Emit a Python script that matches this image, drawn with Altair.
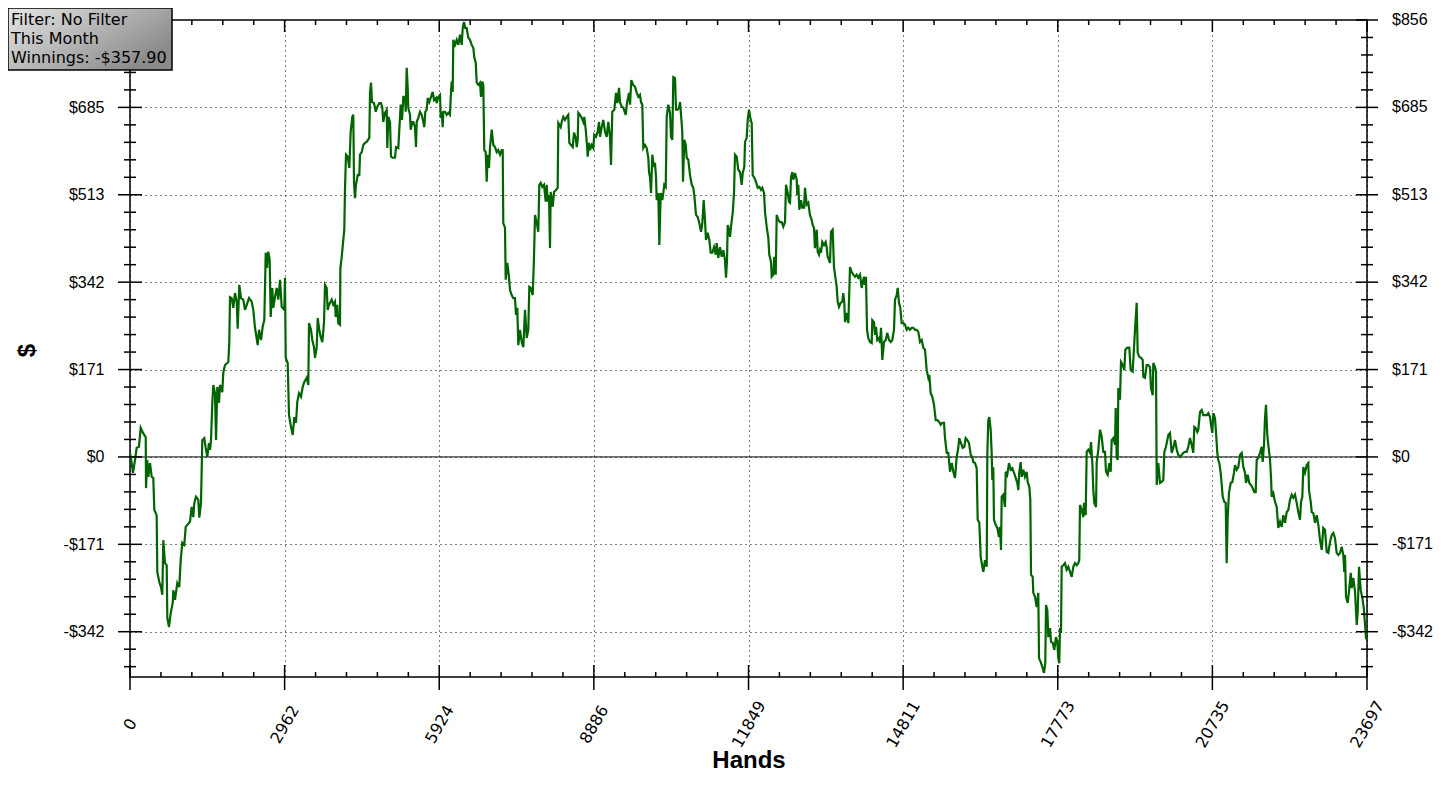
import altair as alt
import pandas as pd

# cumulative winnings (hand number, dollars)
HANDS = [
    0, 33, 57, 96, 128, 172, 205, 249, 301, 307,
    331, 351, 383, 416, 446, 466, 511, 523, 561, 594,
    619, 638, 670, 703, 715, 747, 780, 818, 829, 862,
    906, 944, 971, 1002, 1040, 1067, 1149, 1182, 1213, 1232,
    1264, 1308, 1328, 1360, 1385, 1423, 1450, 1481, 1513, 1533,
    1552, 1577, 1596, 1628, 1648, 1672, 1705, 1724, 1768, 1787,
    1820, 1883, 1902, 1916, 1948, 1979, 2011, 2044, 2063, 2094,
    2126, 2170, 2203, 2236, 2280, 2331, 2362, 2395, 2446, 2471,
    2510, 2542, 2573, 2600, 2625, 2649, 2676, 2695, 2726, 2745,
    2778, 2810, 2841, 2874, 2906, 2956, 2969, 2983, 3021, 3046,
    3084, 3117, 3148, 3180, 3205, 3238, 3276, 3308, 3339, 3385,
    3416, 3429, 3467, 3492, 3525, 3544, 3577, 3596, 3626, 3653,
    3684, 3716, 3736, 3768, 3787, 3812, 3864, 3895, 3927, 3941,
    3971, 3990, 4023, 4030, 4056, 4086, 4105, 4119, 4138, 4171,
    4201, 4228, 4259, 4278, 4291, 4310, 4329, 4362, 4393, 4406,
    4439, 4469, 4502, 4534, 4584, 4598, 4617, 4636, 4674, 4707,
    4737, 4776, 4808, 4833, 4852, 4885, 4918, 4929, 4948, 4981,
    5000, 5033, 5077, 5096, 5140, 5159, 5186, 5211, 5236, 5268,
    5282, 5301, 5320, 5331, 5364, 5377, 5408, 5427, 5460, 5479,
    5492, 5523, 5556, 5588, 5619, 5638, 5657, 5684, 5703, 5734,
    5766, 5799, 5824, 5862, 5875, 5906, 5939, 5952, 5971, 5990,
    6002, 6034, 6067, 6098, 6130, 6149, 6163, 6182, 6193, 6226,
    6259, 6289, 6322, 6354, 6374, 6398, 6423, 6450, 6481, 6513,
    6546, 6577, 6596, 6623, 6642, 6672, 6705, 6724, 6749, 6768,
    6787, 6814, 6833, 6853, 6877, 6897, 6929, 6960, 6992, 7025,
    7055, 7088, 7121, 7140, 7151, 7184, 7197, 7228, 7255, 7280,
    7312, 7343, 7375, 7395, 7419, 7439, 7471, 7504, 7535, 7567,
    7600, 7630, 7650, 7676, 7715, 7739, 7759, 7791, 7822, 7841,
    7868, 7898, 7931, 7964, 7983, 8002, 8027, 8046, 8059, 8098,
    8123, 8161, 8193, 8205, 8251, 8270, 8301, 8333, 8366, 8396,
    8416, 8448, 8481, 8506, 8538, 8558, 8577, 8589, 8621, 8653,
    8684, 8703, 8730, 8755, 8768, 8793, 8812, 8845, 8875, 8894,
    8927, 8960, 8985, 9004, 9036, 9067, 9100, 9132, 9163, 9195,
    9215, 9239, 9278, 9310, 9336, 9368, 9387, 9420, 9450, 9496,
    9521, 9559, 9579, 9603, 9636, 9674, 9707, 9738, 9770, 9789,
    9814, 9833, 9866, 9898, 9929, 9943, 9962, 9981, 10006, 10038,
    10057, 10077, 10090, 10121, 10140, 10167, 10197, 10217, 10236, 10263,
    10282, 10312, 10345, 10364, 10389, 10408, 10441, 10460, 10492, 10517,
    10537, 10556, 10580, 10594, 10619, 10646, 10665, 10695, 10728, 10761,
    10791, 10810, 10843, 10875, 10906, 10939, 10964, 10990, 11015, 11034,
    11067, 11098, 11124, 11155, 11188, 11220, 11239, 11270, 11303, 11335,
    11366, 11398, 11418, 11437, 11450, 11475, 11494, 11513, 11546, 11571,
    11590, 11623, 11653, 11686, 11718, 11738, 11768, 11782, 11814, 11833,
    11858, 11891, 11910, 11929, 11960, 11992, 12025, 12055, 12088, 12113,
    12146, 12165, 12197, 12228, 12247, 12280, 12293, 12324, 12343, 12370,
    12389, 12420, 12452, 12485, 12515, 12548, 12567, 12600, 12624, 12644,
    12663, 12688, 12707, 12740, 12772, 12783, 12803, 12822, 12855, 12879,
    12912, 12931, 12963, 12994, 13026, 13059, 13078, 13103, 13122, 13155,
    13174, 13199, 13218, 13238, 13262, 13295, 13327, 13346, 13365, 13390,
    13410, 13429, 13461, 13486, 13506, 13538, 13557, 13582, 13615, 13645,
    13664, 13684, 13697, 13730, 13761, 13793, 13826, 13856, 13889, 13921,
    13952, 13985, 14017, 14036, 14061, 14080, 14099, 14119, 14144, 14176,
    14209, 14220, 14253, 14272, 14291, 14316, 14349, 14368, 14387, 14412,
    14444, 14477, 14507, 14540, 14573, 14603, 14636, 14655, 14688, 14707,
    14732, 14757, 14783, 14814, 14847, 14879, 14910, 14942, 14975, 15006,
    15038, 15071, 15102, 15134, 15167, 15197, 15230, 15262, 15293, 15312,
    15339, 15369, 15402, 15435, 15465, 15498, 15531, 15561, 15594, 15613,
    15646, 15676, 15709, 15742, 15772, 15805, 15837, 15868, 15885, 15919,
    15952, 15983, 16009, 16040, 16073, 16105, 16136, 16155, 16188, 16220,
    16239, 16270, 16297, 16328, 16347, 16379, 16412, 16424, 16442, 16462,
    16488, 16507, 16519, 16538, 16551, 16584, 16615, 16647, 16667, 16686,
    16699, 16730, 16762, 16776, 16806, 16839, 16871, 16902, 16935, 16967,
    16998, 17017, 17036, 17063, 17082, 17113, 17145, 17178, 17197, 17228,
    17247, 17261, 17293, 17304, 17337, 17370, 17400, 17414, 17446, 17477,
    17509, 17534, 17548, 17573, 17592, 17624, 17644, 17676, 17707, 17739,
    17764, 17783, 17802, 17816, 17835, 17848, 17879, 17912, 17944, 17975,
    18008, 18040, 18071, 18103, 18136, 18166, 18185, 18199, 18232, 18262,
    18276, 18308, 18327, 18358, 18391, 18410, 18435, 18454, 18473, 18506,
    18519, 18550, 18582, 18615, 18645, 18678, 18697, 18730, 18760, 18787,
    18806, 18837, 18870, 18883, 18902, 18921, 18933, 18965, 18984, 19017,
    19048, 19067, 19105, 19144, 19170, 19208, 19234, 19253, 19285, 19304,
    19335, 19368, 19400, 19412, 19444, 19477, 19507, 19540, 19559, 19592,
    19603, 19636, 19655, 19669, 19699, 19732, 19764, 19795, 19815, 19846,
    19891, 19923, 19956, 19987, 20019, 20052, 20082, 20115, 20147, 20178,
    20211, 20243, 20274, 20306, 20339, 20369, 20389, 20415, 20446, 20465,
    20498, 20530, 20561, 20594, 20626, 20657, 20690, 20709, 20734, 20753,
    20785, 20805, 20829, 20848, 20868, 20894, 20914, 20933, 20963, 20990,
    21009, 21028, 21053, 21086, 21117, 21149, 21168, 21201, 21232, 21264,
    21297, 21328, 21360, 21379, 21412, 21442, 21475, 21507, 21538, 21565,
    21584, 21615, 21648, 21680, 21699, 21724, 21743, 21762, 21787, 21806,
    21839, 21858, 21871, 21902, 21935, 21967, 21998, 22031, 22063, 22094,
    22126, 22159, 22190, 22222, 22255, 22285, 22318, 22350, 22381, 22414,
    22433, 22458, 22477, 22510, 22542, 22573, 22586, 22619, 22638, 22669,
    22702, 22734, 22765, 22797, 22830, 22860, 22893, 22925, 22956, 22988,
    23021, 23052, 23084, 23116, 23147, 23180, 23212, 23243, 23262, 23276,
    23295, 23327, 23352, 23385, 23404, 23435, 23468, 23500, 23519, 23544,
    23577, 23608, 23635, 23660, 23679, 23697,
]

WINNINGS = [
    8, -12, -31, -6, 18, 20, 57, 47, 39, -61,
    -6, -39, -12, -39, -41, -104, -114, -225, -245, -255,
    -270, -163, -208, -212, -315, -333, -306, -286, -261, -280,
    -247, -255, -202, -168, -172, -137, -127, -98, -118, -90,
    -78, -84, -119, -90, 33, 37, 18, 0, 27, 14,
    33, 106, 141, 125, 33, 137, 106, 141, 127, 165,
    180, 186, 223, 313, 311, 292, 321, 304, 251, 337,
    311, 308, 288, 298, 311, 304, 288, 253, 219, 249,
    229, 255, 268, 400, 370, 402, 386, 274, 331, 292,
    313, 331, 308, 347, 294, 288, 351, 194, 184, 82,
    59, 43, 78, 67, 108, 125, 118, 137, 147, 155,
    141, 262, 249, 229, 215, 194, 215, 272, 249, 235,
    225, 262, 337, 331, 288, 298, 308, 298, 304, 274,
    298, 262, 259, 370, 392, 425, 445, 527, 592, 588,
    566, 637, 666, 670, 539, 507, 533, 552, 552, 592,
    597, 611, 615, 617, 625, 713, 733, 695, 693, 676,
    686, 693, 693, 684, 656, 674, 680, 605, 666, 656,
    588, 586, 586, 607, 605, 641, 690, 660, 705, 705,
    676, 762, 723, 684, 670, 641, 656, 656, 646, 607,
    656, 664, 676, 670, 656, 646, 676, 680, 703, 695,
    705, 715, 699, 703, 693, 705, 709, 664, 676, 646,
    676, 676, 670, 674, 670, 715, 735, 715, 817, 807,
    817, 807, 827, 807, 840, 852, 840, 840, 821, 817,
    807, 801, 782, 772, 733, 729, 733, 705, 735, 729,
    601, 597, 539, 592, 566, 607, 641, 611, 607, 597,
    601, 592, 601, 601, 458, 449, 347, 380, 357, 327,
    317, 311, 311, 278, 292, 219, 249, 225, 215, 288,
    233, 249, 333, 331, 317, 390, 474, 458, 441, 533,
    537, 529, 533, 500, 533, 500, 513, 409, 519, 490,
    519, 523, 527, 654, 646, 656, 666, 660, 666, 670,
    615, 611, 607, 635, 625, 607, 621, 674, 670, 664,
    656, 666, 641, 611, 588, 615, 601, 611, 605, 631,
    627, 637, 656, 627, 646, 660, 637, 627, 656, 627,
    572, 676, 680, 713, 693, 723, 695, 686, 684, 670,
    693, 713, 690, 738, 729, 725, 713, 705, 709, 695,
    690, 605, 611, 605, 586, 558, 547, 517, 592, 568,
    576, 548, 503, 517, 415, 517, 503, 517, 533, 529,
    666, 690, 674, 627, 621, 744, 742, 680, 680, 684,
    695, 670, 637, 539, 621, 611, 586, 582, 552, 533,
    527, 513, 474, 470, 458, 441, 458, 503, 464, 425,
    439, 425, 400, 400, 411, 396, 419, 390, 411, 392,
    405, 386, 351, 386, 454, 445, 431, 451, 478, 517,
    592, 588, 562, 558, 533, 556, 568, 617, 625, 660,
    680, 660, 654, 552, 547, 539, 527, 529, 523, 527,
    517, 479, 451, 429, 396, 382, 353, 357, 392, 357,
    474, 464, 460, 460, 451, 460, 533, 517, 500, 498,
    548, 558, 543, 556, 543, 513, 533, 484, 503, 488,
    488, 527, 494, 498, 474, 464, 454, 449, 409, 445,
    402, 396, 405, 400, 421, 415, 421, 411, 392, 386,
    380, 441, 445, 372, 357, 333, 304, 294, 302, 304,
    321, 302, 264, 282, 262, 372, 362, 357, 353, 357,
    351, 357, 331, 341, 353, 337, 353, 249, 233, 225,
    223, 268, 264, 239, 255, 229, 233, 223, 253, 190,
    225, 229, 243, 229, 225, 229, 249, 308, 317, 331,
    302, 292, 262, 262, 259, 249, 253, 249, 253, 253,
    249, 249, 245, 225, 229, 214, 210, 170, 155, 161,
    125, 118, 102, 72, 72, 69, 63, 67, 67, 37,
    8, 8, -29, -12, -29, -41, 0, 18, 37, 27,
    18, 20, 37, 33, 27, 4, 0, -10, -12, -22,
    -123, -129, -196, -215, -225, -202, -215, 8, 72, 78,
    53, 8, -45, -20, -123, -133, -139, -157, -137, -182,
    -78, -74, -98, -29, -35, -12, -25, -22, -31, -41,
    -51, -65, -29, -10, -39, -25, -39, -29, -49, -59,
    -84, -231, -235, -266, -274, -294, -266, -394, -402, -411,
    -423, -404, -290, -300, -353, -335, -362, -364, -378, -353,
    -362, -394, -404, -335, -345, -215, -212, -208, -221, -215,
    -225, -235, -215, -208, -212, -208, -202, -94, -104, -118,
    -90, -114, 10, 14, 8, 29, -12, -65, -90, -98,
    -10, 14, 53, 39, 10, 10, -29, -35, -12, -29,
    33, 37, 24, 96, 0, -6, 135, 112, 186, 180,
    170, 210, 214, 214, 170, 167, 215, 249, 302, 204,
    196, 194, 190, 157, 155, 180, 180, 176, 135, 121,
    184, 176, 167, -55, -12, -51, -49, -45, 10, 20,
    43, 47, 8, 18, 33, 14, 4, 0, 4, 8,
    10, 10, 20, 37, 24, 8, 59, 57, 49, 53,
    88, 92, 82, 82, 82, 86, 78, 63, 47, 86,
    76, 47, 8, -6, -12, -31, -55, -78, -88, -90,
    -208, -118, -71, -51, -49, -31, -16, -25, -20, 4,
    8, -20, -31, -51, -35, -51, -55, -61, -69, -69,
    -6, -2, 8, 20, -10, 24, 76, 102, 43, 24,
    -6, -39, -78, -71, -88, -98, -139, -127, -137, -114,
    -129, -108, -104, -84, -74, -80, -74, -90, -108, -123,
    -88, -78, -20, -31, -16, -12, -65, -88, -108, -110,
    -129, -114, -133, -163, -182, -139, -143, -186, -188, -167,
    -153, -149, -159, -188, -192, -188, -176, -192, -225, -192,
    -274, -286, -264, -227, -257, -237, -264, -329, -304, -215,
    -261, -276, -296, -329, -355, -358,
]

X_TICKS = [0, 2962, 5924, 8886, 11849, 14811, 17773, 20735, 23697]
Y_TICKS = [-342.3, -171.15, 0, 171.15, 342.3, 513.45, 684.6, 855.75]
Y_LABELS = ["-$342", "-$171", "$0", "$171", "$342", "$513", "$685", "$856"]
BOX_LINES = ["Filter: No Filter", "This Month", "Winnings: -$357.90"]

X_MIN, X_MAX = 0, 23697
Y_MIN, Y_MAX = -431, 855.75

# minor ticks: four between each pair of majors
x_minor = [X_MAX * i / 40 for i in range(1, 40) if i % 5]
y_minor = [Y_TICKS[0] + 34.23 * k for k in range(-2, 35) if k % 5]

df = pd.DataFrame({"hands": HANDS, "winnings": WINNINGS})
one = pd.DataFrame({"a": [0]})

xs = alt.Scale(domain=[X_MIN, X_MAX], nice=False, zero=False)
ys = alt.Scale(domain=[Y_MIN, Y_MAX], nice=False, zero=False)

x_axis = alt.Axis(
    values=X_TICKS, format="d", ticks=False, domain=False,
    grid=True, gridColor="black", gridDash=[1, 4], gridWidth=1,
    labelAngle=300, labelAlign="center", labelBaseline="middle",
    labelPadding=47, labelFont="DejaVu Sans", labelFontSize=16,
    labelColor="black", labelFlush=False, labelOverlap=False,
    title="Hands", titleFont="Liberation Sans", titleFontSize=24,
    titleFontWeight="bold", titleColor="black", titleBaseline="top",
    titleY=71,
)
# the $856 label on the left sits under the filter box, so it is left out
y_axis = alt.Axis(
    values=Y_TICKS[:-1], ticks=False, domain=False,
    labelExpr="datum.value < 0 ? '-$' + format(-datum.value, '.0f') : '$' + format(datum.value, '.0f')",
    grid=True, gridColor="black", gridDash=[1, 4], gridWidth=1,
    labelPadding=26, labelFont="Liberation Sans", labelFontSize=16,
    labelColor="black", labelFlush=False, labelOverlap=False,
    title="$", titleFont="Liberation Sans", titleFontSize=24,
    titleFontWeight="bold", titleColor="black", titleAngle=270,
    titleAlign="center", titleBaseline="middle", titleX=-103, titleY=330,
)

line = alt.Chart(df).mark_line(color="#006400", strokeWidth=2.2).encode(
    x=alt.X("hands:Q", scale=xs, axis=x_axis),
    y=alt.Y("winnings:Q", scale=ys, axis=y_axis),
)

zero = alt.Chart(one).mark_rule(color="black", strokeWidth=1).encode(y=alt.datum(0))


def side_ticks(values, at, half):
    return alt.Chart(pd.DataFrame({"v": values})).mark_rule(
        color="black", strokeWidth=1.5, xOffset=-half, x2Offset=half
    ).encode(y=alt.Y("v:Q"), x=alt.datum(at), x2=alt.datum(at))


def edge_ticks(values, at, off1, off2):
    return alt.Chart(pd.DataFrame({"v": values})).mark_rule(
        color="black", strokeWidth=1.5, yOffset=off1, y2Offset=off2
    ).encode(x=alt.X("v:Q"), y=alt.datum(at), y2=alt.datum(at))


ticks = [
    side_ticks(Y_TICKS, X_MIN, 12),
    side_ticks(y_minor, X_MIN, 6),
    side_ticks(Y_TICKS, X_MAX, 11),
    side_ticks(y_minor, X_MAX, 6),
    edge_ticks(X_TICKS, Y_MIN, 13, -12),
    edge_ticks(x_minor, Y_MIN, 0, -5),
    edge_ticks(X_TICKS, Y_MAX, 0, 12),
    edge_ticks(x_minor, Y_MAX, 0, 5),
]

right_labels = alt.Chart(pd.DataFrame({"v": Y_TICKS, "label": Y_LABELS})).mark_text(
    align="left", baseline="middle", dx=25, font="Liberation Sans",
    fontSize=16, color="black",
).encode(x=alt.datum(X_MAX), y="v:Q", text="label:N")

box_fill = alt.Gradient(
    gradient="linear",
    stops=[alt.GradientStop(color="#e6e6e6", offset=0),
           alt.GradientStop(color="#8a8a8a", offset=1)],
    x1=0, y1=0, x2=1, y2=0.6,
)
box = alt.Chart(one).mark_rect(fill=box_fill, stroke="black", strokeWidth=1.5).encode(
    x=alt.value(-122), x2=alt.value(42), y=alt.value(-12), y2=alt.value(50)
)
box_text = alt.Chart(one).mark_text(
    align="left", baseline="top", font="DejaVu Sans", fontSize=16,
    lineHeight=19, color="black",
).encode(x=alt.value(-119), y=alt.value(-8), text=alt.value(BOX_LINES))

chart = alt.layer(zero, line, *ticks, right_labels, box, box_text).properties(
    width=1237,
    height=657,
    padding={"left": 122, "top": 12, "right": 70, "bottom": 100},
    autosize=alt.AutoSizeParams(type="none"),
).configure_view(stroke="black", strokeWidth=1.5)

chart.save("out.html", embed_options={"renderer": "svg", "actions": False})
